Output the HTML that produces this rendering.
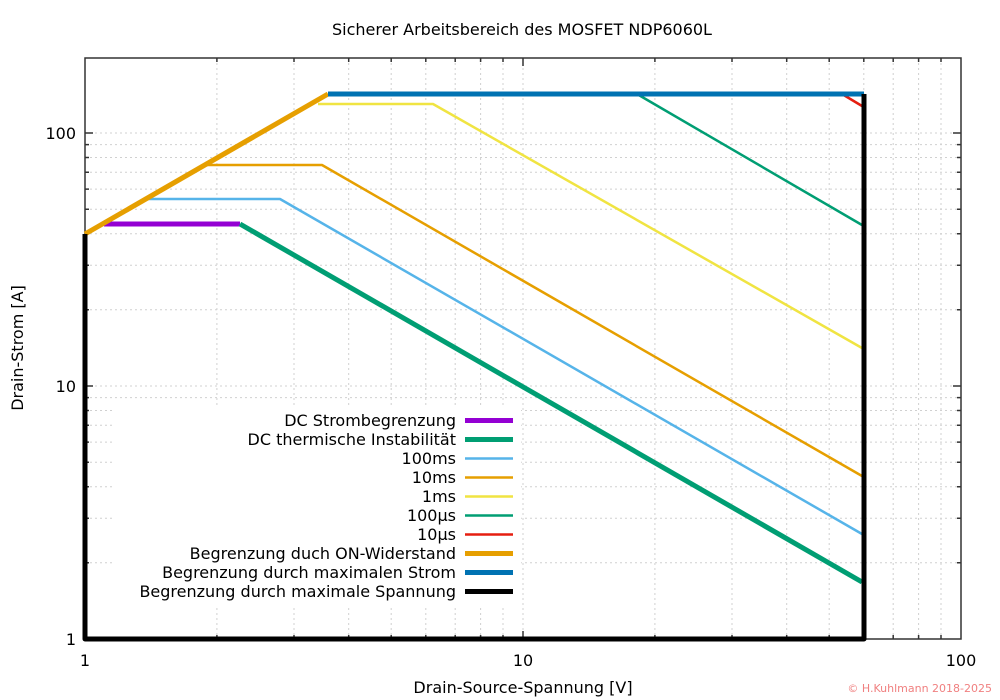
<!DOCTYPE html>
<html><head><meta charset="utf-8"><style>body{margin:0;background:#fff}svg{display:block;font-family:"DejaVu Sans","Liberation Sans",sans-serif}</style></head><body>
<svg width="1000" height="700" viewBox="0 0 1000 700" xmlns="http://www.w3.org/2000/svg">
<rect width="1000" height="700" fill="#fff"/>
<g stroke="#d0d0d0" stroke-width="1" stroke-dasharray="2,3">
<path d="M216.9 58V639M294 58V639M348.7 58V639M391.2 58V639M425.8 58V639M455.2 58V639M480.6 58V639M503 58V639M523 58V639M654.9 58V639M732 58V639M786.7 58V639M829.2 58V639M863.8 58V639M893.2 58V639M918.6 58V639M941 58V639"/>
<path d="M85 562.8H961M85 518.3H961M85 486.7H961M85 462.2H961M85 442.1H961M85 425.2H961M85 410.5H961M85 397.6H961M85 386H961M85 309.8H961M85 265.3H961M85 233.7H961M85 209.2H961M85 189.1H961M85 172.2H961M85 157.5H961M85 144.6H961M85 133H961"/>
</g>
<rect x="113" y="408" width="408" height="197" fill="#fff"/>
<g stroke="#333" stroke-width="1.5" fill="none">
<rect x="85" y="58" width="876" height="581"/>
<path d="M85 386h8M85 133h8M961 386h-8M961 133h-8M523 639v-8M523 58v8"/>
<path d="M85 562.8h4M85 518.3h4M85 486.7h4M85 462.2h4M85 442.1h4M85 425.2h4M85 410.5h4M85 397.6h4M85 309.8h4M85 265.3h4M85 233.7h4M85 209.2h4M85 189.1h4M85 172.2h4M85 157.5h4M85 144.6h4"/>
<path d="M961 562.8h-4M961 518.3h-4M961 486.7h-4M961 462.2h-4M961 442.1h-4M961 425.2h-4M961 410.5h-4M961 397.6h-4M961 309.8h-4M961 265.3h-4M961 233.7h-4M961 209.2h-4M961 189.1h-4M961 172.2h-4M961 157.5h-4M961 144.6h-4"/>
<path d="M216.9 639v-4M294 639v-4M348.7 639v-4M391.2 639v-4M425.8 639v-4M455.2 639v-4M480.6 639v-4M503 639v-4M654.9 639v-4M732 639v-4M786.7 639v-4M829.2 639v-4M863.8 639v-4M893.2 639v-4M918.6 639v-4M941 639v-4"/>
<path d="M216.9 58v4M294 58v4M348.7 58v4M391.2 58v4M425.8 58v4M455.2 58v4M480.6 58v4M503 58v4M654.9 58v4M732 58v4M786.7 58v4M829.2 58v4M863.8 58v4M893.2 58v4M918.6 58v4M941 58v4"/>
</g>
<g fill="none" stroke-linejoin="round">
<path d="M104 224H240" stroke="#9400d3" stroke-width="5"/>
<path d="M240 224L862 582" stroke="#009e73" stroke-width="5"/>
<path d="M148 199H280L862 534" stroke="#56b4e9" stroke-width="2.5"/>
<path d="M205 165H322L862 476" stroke="#e69f00" stroke-width="2.5"/>
<path d="M318 104H433L862 348" stroke="#f0e442" stroke-width="2.5"/>
<path d="M560 94H637L862 225" stroke="#009e73" stroke-width="2.5"/>
<path d="M842 94L862 106" stroke="#e51e10" stroke-width="2.5"/>
<path d="M85 234L328 94" stroke="#e69f00" stroke-width="5"/>
<path d="M328 94H864" stroke="#0072b2" stroke-width="5"/>
<path d="M864 94V639H85V234" stroke="#000" stroke-width="5"/>
</g>
<g font-size="16" fill="#000" text-anchor="end">
<text x="456" y="426">DC Strombegrenzung</text>
<text x="456" y="445">DC thermische Instabilität</text>
<text x="456" y="464">100ms</text>
<text x="456" y="483">10ms</text>
<text x="456" y="502">1ms</text>
<text x="456" y="521">100µs</text>
<text x="456" y="540">10µs</text>
<text x="456" y="559">Begrenzung duch ON-Widerstand</text>
<text x="456" y="578">Begrenzung durch maximalen Strom</text>
<text x="456" y="597">Begrenzung durch maximale Spannung</text>
</g>
<g stroke-width="5">
<path d="M465 420.5h48" stroke="#9400d3"/>
<path d="M465 439.5h48" stroke="#009e73"/>
<path d="M465 458.5h48" stroke="#56b4e9" stroke-width="2.5"/>
<path d="M465 477.5h48" stroke="#e69f00" stroke-width="2.5"/>
<path d="M465 496.5h48" stroke="#f0e442" stroke-width="2.5"/>
<path d="M465 515.5h48" stroke="#009e73" stroke-width="2.5"/>
<path d="M465 534.5h48" stroke="#e51e10" stroke-width="2.5"/>
<path d="M465 553.5h48" stroke="#e69f00"/>
<path d="M465 572.5h48" stroke="#0072b2"/>
<path d="M465 591.5h48" stroke="#000"/>
</g>
<g font-size="16" fill="#000">
<text x="76" y="645" text-anchor="end">1</text>
<text x="76" y="392" text-anchor="end">10</text>
<text x="76" y="139" text-anchor="end">100</text>
<text x="85" y="666" text-anchor="middle">1</text>
<text x="523" y="666" text-anchor="middle">10</text>
<text x="961" y="666" text-anchor="middle">100</text>
<text x="523" y="693" text-anchor="middle">Drain-Source-Spannung [V]</text>
<text x="522" y="35" text-anchor="middle">Sicherer Arbeitsbereich des MOSFET NDP6060L</text>
<text transform="translate(23 348) rotate(-90)" text-anchor="middle">Drain-Strom [A]</text>
</g>
<text x="992" y="692" font-size="11" fill="#f08080" text-anchor="end">© H.Kuhlmann 2018-2025</text>
</svg>
</body></html>
